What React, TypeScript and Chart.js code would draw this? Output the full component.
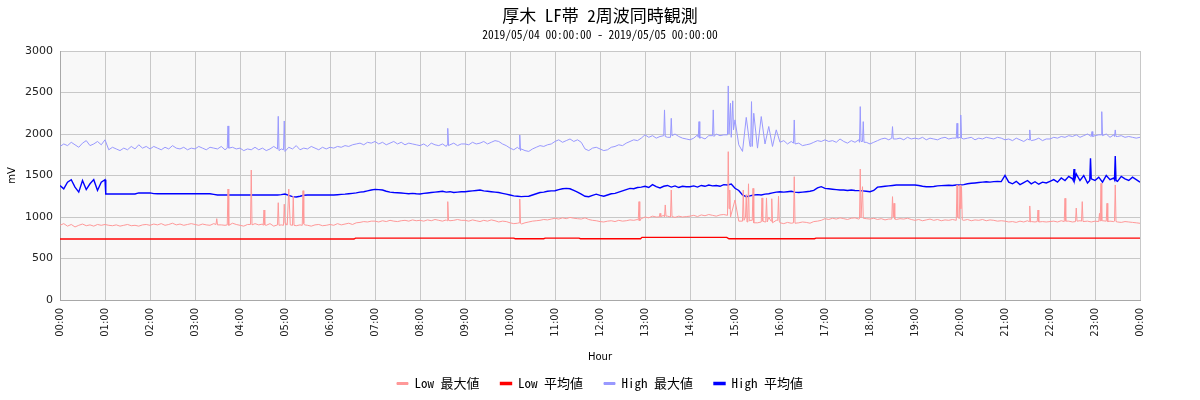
import React, { useEffect, useRef } from "react";
import { Chart, registerables } from "chart.js";

Chart.register(...registerables);

const TITLE = "厚木 LF帯 2周波同時観測";
const SUBTITLE = "2019/05/04 00:00:00 - 2019/05/05 00:00:00";
const X_TITLE = "Hour";
const Y_TITLE = "mV";
const SERIES_LABELS = ["Low 最大値", "Low 平均値", "High 最大値", "High 平均値"];
const SERIES_COLORS = ["#ff9999", "#ff0000", "#9999ff", "#0000ff"];

// sampling step of the base arrays, in minutes since 00:00
const STEP = 5;

// Low max, every 5 minutes (one row per hour) + final 24:00 value
const lowMax = [
  900, 920, 890, 910, 880, 900, 915, 895, 905, 890, 910, 900,
  910, 900, 895, 905, 890, 900, 910, 895, 900, 890, 905, 910,
  900, 915, 905, 920, 900, 910, 925, 905, 915, 900, 910, 920,
  910, 900, 915, 905, 900, 920, 910, 905, 900, 915, 925, 910,
  900, 890, 910, 895, 920, 905, 915, 900, 920, 890, 925, 905,
  930, 900, 910, 895, 905, 920, 900, 890, 905, 910, 895, 900,
  910, 900, 920, 905, 915, 925, 910, 930, 935, 945, 940, 950,
  950, 940, 955, 945, 960, 950, 945, 955, 960, 950, 965, 955,
  960, 950, 965, 955, 970, 960, 950, 965, 955, 960, 970, 960,
  960, 950, 965, 955, 945, 960, 950, 965, 955, 940, 950, 945,
  930, 920, 925, 915, 930, 940, 950, 955, 960, 970, 965, 975,
  985, 975, 990, 980, 995, 985, 980, 975, 990, 970, 960, 955,
  945, 940, 950, 955, 945, 960, 950, 955, 965, 960, 970, 980,
  1000, 990, 1010, 1000, 1045, 1020, 1010, 1000, 995, 1010, 1000, 1005,
  1010, 1020, 1005, 1025, 1015, 1030, 1020, 1010, 1025, 1030, 1020, 1035,
  1205, 950, 1000, 920, 960, 1050, 930, 980, 940, 1000, 930, 960,
  930, 920, 935, 925, 915, 930, 940, 935, 925, 945, 950, 960,
  980, 970, 985, 975, 990, 980, 970, 985, 990, 975, 985, 980,
  975, 985, 970, 980, 965, 975, 985, 970, 980, 975, 985, 970,
  960, 970, 955, 965, 975, 960, 970, 955, 965, 960, 970, 965,
  1000, 960, 970, 955, 965, 960, 970, 955, 965, 960, 950, 955,
  950, 940, 945, 935, 950, 940, 955, 945, 940, 950, 945, 940,
  945, 950, 940, 955, 945, 950, 940, 945, 955, 945, 950, 940,
  950, 945, 955, 940, 950, 945, 940, 935, 945, 940, 935, 930,
  924,
];

// Low max spikes: [minute, value]
const lowMaxSpikes = [
  [208, 910], [209, 980], [210, 905],
  [223, 905], [224, 1337], [225, 900],
  [254, 910], [255, 1566], [256, 905],
  [271, 900], [272, 1084], [273, 905],
  [290, 905], [291, 1172], [292, 900],
  [298, 900], [299, 1154], [301, 910], [303, 905], [305, 1337], [307, 905],
  [310, 900], [311, 1253], [312, 900], [323, 900], [324, 1317], [326, 905],
  [516, 955], [517, 1185], [518, 960],
  [612, 930], [613, 1217], [614, 925],
  [771, 960], [772, 1185], [773, 955],
  [799, 1000], [800, 1044], [801, 1005], [806, 1000], [807, 1145], [808, 1010],
  [814, 1000], [815, 1325], [816, 1005],
  [890, 1020], [891, 1787], [892, 1100], [893, 1325], [894, 1000],
  [910, 950], [911, 1325], [912, 960], [914, 1000], [915, 1270], [916, 940],
  [917, 1000], [918, 1400], [919, 950], [923, 960], [924, 1345], [925, 930],
  [935, 940], [936, 1230], [937, 950], [941, 960], [942, 1230], [943, 940],
  [948, 950], [949, 1220], [950, 930], [957, 960], [958, 1250], [959, 950],
  [978, 930], [979, 1486], [980, 925],
  [1066, 980], [1067, 1578], [1068, 990], [1070, 1365], [1071, 985],
  [1109, 975], [1110, 1245], [1111, 1000], [1112, 1165], [1113, 975],
  [1195, 960], [1196, 1386], [1197, 1000], [1199, 980], [1200, 1386], [1201, 1100],
  [1202, 1365], [1203, 965],
  [1292, 945], [1293, 1133], [1294, 940], [1303, 945], [1304, 1084], [1305, 940],
  [1339, 945], [1340, 1225], [1341, 950], [1354, 945], [1355, 1108], [1356, 950],
  [1362, 950], [1363, 1185], [1364, 945],
  [1385, 945], [1386, 1044], [1387, 950], [1388, 1406], [1389, 955],
  [1395, 950], [1396, 1165], [1397, 945], [1406, 950], [1407, 1386], [1408, 945],
];

// Low average: [minute, value]
const lowAvg = [
  [0, 735], [392, 735], [394, 745], [605, 745], [607, 738], [645, 738],
  [647, 745], [692, 745], [694, 738], [774, 738], [776, 755], [889, 755],
  [892, 738], [1006, 738], [1008, 745], [1440, 745],
];

// High max, every 5 minutes + final 24:00 value
const highMax = [
  1850, 1880, 1860, 1900, 1870, 1840, 1890, 1920, 1860, 1880, 1910, 1870,
  1930, 1810, 1840, 1820, 1800, 1830, 1810, 1850, 1820, 1870, 1830, 1850,
  1820, 1850, 1830, 1810, 1840, 1820, 1860, 1830, 1820, 1840, 1810, 1830,
  1820, 1850, 1830, 1810, 1840, 1830, 1820, 1850, 1810, 1830, 1840, 1820,
  1830, 1800, 1820, 1810, 1840, 1810, 1830, 1800, 1820, 1850, 1830, 1820,
  1800, 1840, 1820, 1860, 1810, 1830, 1820, 1850, 1830, 1810, 1840, 1820,
  1840, 1830, 1850, 1840, 1860, 1850, 1870, 1880, 1890, 1870, 1900, 1890,
  1910, 1880, 1900, 1870, 1890, 1910, 1880, 1900, 1870, 1890, 1880, 1870,
  1860, 1880, 1850, 1890, 1870, 1860, 1880, 1850, 1870, 1890, 1860, 1880,
  1880, 1870, 1900, 1880, 1890, 1910, 1880, 1900, 1920, 1910, 1880, 1860,
  1830, 1810, 1840, 1820, 1800, 1790, 1820, 1840, 1860, 1850, 1870, 1880,
  1910, 1930, 1900, 1920, 1940, 1910, 1930, 1900, 1820, 1800, 1830, 1840,
  1820, 1800, 1810, 1840, 1850, 1870, 1860, 1890, 1910, 1930, 1920, 1950,
  1990, 1960, 1980, 1950, 1970, 1990, 1960, 1980, 2000, 1970, 1950, 1940,
  1930, 1950, 1990, 1960, 1940, 1980, 1970, 2000, 1980, 1990, 1970, 2010,
  2170, 1870, 1790, 2200, 1850, 2250, 1830, 2210, 1880, 2090, 1850, 2050,
  1900, 1920, 1880, 1910, 1870, 1890, 1860, 1870, 1880, 1900, 1920, 1910,
  1930, 1910, 1920, 1900, 1940, 1910, 1890, 1920, 1900, 1930, 1910, 1900,
  1880, 1900, 1920, 1940, 1950, 1930, 1960, 1940, 1950, 1930, 1960, 1940,
  1950, 1940, 1960, 1930, 1950, 1940, 1930, 1950, 1960, 1940, 1950, 1930,
  1960, 1940, 1950, 1960, 1930, 1950, 1940, 1960, 1950, 1940, 1960, 1950,
  1930, 1940, 1920, 1950, 1930, 1910, 1940, 1920, 1930, 1950, 1920, 1940,
  1940, 1960, 1950, 1970, 1960, 1980, 1970, 1990, 1960, 1980, 2000, 1970,
  1980, 1990, 1970, 2000, 1960, 1990, 1970, 1980, 1960, 1970, 1960, 1950,
  1960,
];

// High max spikes: [minute, value]
const highMaxSpikes = [
  [223, 1830], [224, 2097], [225, 1830],
  [290, 1820], [291, 2213], [292, 1800],
  [298, 1810], [299, 2157], [300, 1790],
  [516, 1870], [517, 2068], [518, 1860],
  [612, 1820], [613, 1988], [614, 1800],
  [805, 1980], [806, 2290], [807, 1970],
  [814, 1960], [815, 2189], [816, 1980],
  [851, 1960], [852, 2149], [853, 1950],
  [870, 1980], [871, 2290], [872, 1970],
  [890, 1990], [891, 2579], [892, 2000], [894, 2370], [895, 1960], [897, 2400], [898, 2050],
  [921, 1900], [922, 2390], [923, 1850],
  [978, 1890], [979, 2169], [980, 1880],
  [1066, 1900], [1067, 2330], [1068, 1910], [1071, 2149], [1072, 1900],
  [1109, 1950], [1110, 2089], [1111, 1940],
  [1195, 1950], [1196, 2129], [1197, 1950], [1201, 2229], [1202, 1950],
  [1292, 1930], [1293, 2049], [1294, 1930],
  [1375, 1970], [1376, 2029], [1377, 1970],
  [1388, 1990], [1389, 2269], [1390, 1980],
  [1406, 1970], [1407, 2049], [1408, 1970],
];

// High average, every 5 minutes + final 24:00 value
const highAvg = [
  1380, 1340, 1420, 1450, 1360, 1300, 1440, 1330, 1400, 1450, 1320, 1420,
  1450, 1277, 1277, 1277, 1277, 1277, 1277, 1277, 1277, 1290, 1290, 1290,
  1290, 1282, 1280, 1280, 1280, 1280, 1280, 1280, 1280, 1280, 1280, 1280,
  1280, 1280, 1280, 1280, 1280, 1272, 1265, 1265, 1265, 1265, 1265, 1265,
  1265, 1265, 1265, 1265, 1265, 1265, 1265, 1265, 1265, 1265, 1265, 1270,
  1277, 1260, 1245, 1241, 1250, 1262, 1265, 1265, 1265, 1265, 1265, 1265,
  1265, 1265, 1268, 1272, 1275, 1280, 1285, 1290, 1300, 1305, 1315, 1325,
  1333, 1330, 1325, 1310, 1300, 1295, 1293, 1290, 1285, 1280, 1285, 1280,
  1277, 1285, 1290, 1295, 1300, 1305, 1310, 1300, 1305, 1295, 1300, 1305,
  1305, 1310, 1315, 1320, 1325, 1315, 1310, 1305, 1300, 1295, 1285, 1275,
  1265, 1255, 1250, 1245, 1248, 1250, 1265, 1280, 1295, 1300, 1310, 1315,
  1317, 1330, 1340, 1345, 1340, 1320, 1300, 1275, 1250, 1245, 1260, 1275,
  1260, 1250, 1265, 1280, 1285, 1300, 1315, 1330, 1345, 1340, 1355, 1360,
  1370, 1355, 1390, 1365, 1350, 1370, 1380, 1360, 1375, 1355, 1370, 1365,
  1365, 1375, 1360, 1380, 1370, 1385, 1375, 1380, 1370, 1390, 1385, 1398,
  1346, 1320, 1265, 1245, 1255, 1265, 1270, 1265, 1275, 1280, 1290, 1300,
  1305, 1300, 1305, 1310, 1300, 1295, 1300, 1305, 1310, 1320, 1350, 1365,
  1345, 1340, 1335, 1330, 1325, 1325, 1320, 1325, 1320, 1318, 1315, 1310,
  1305, 1320, 1360, 1365, 1370, 1375, 1380, 1385, 1385, 1386, 1386, 1386,
  1385, 1380, 1370, 1365, 1365, 1368, 1375, 1378, 1380, 1382, 1380, 1385,
  1386, 1390, 1400, 1406, 1410, 1415, 1420, 1424, 1420, 1426, 1428, 1426,
  1500, 1420, 1400, 1430, 1390, 1415, 1440, 1400, 1425, 1395, 1420, 1410,
  1430, 1450, 1420, 1470, 1440, 1490, 1460, 1520, 1440, 1500, 1410, 1420,
  1440, 1480, 1420, 1500, 1450, 1470, 1430, 1490, 1460, 1440, 1480, 1450,
  1420,
];

// High average extra readings: [minute, value]
const highAvgSpikes = [
  [61, 1277],
  [1351, 1440], [1352, 1578], [1353, 1450],
  [1373, 1440], [1374, 1707], [1375, 1460],
  [1406, 1450], [1407, 1735], [1408, 1440],
];

const X_MIN = 0;
const X_MAX = 1440;
const X_STEP = 60;
const Y_MIN = 0;
const Y_MAX = 3000;
const Y_STEP = 500;

const MONO = "'Noto Sans Mono CJK JP', 'Noto Sans CJK JP', 'DejaVu Sans Mono', monospace";
const SANS = "'DejaVu Sans', 'Noto Sans CJK JP', sans-serif";

function toPoints(base: number[], extra: number[][] = []) {
  const m = new Map<number, number>();
  base.forEach((v, i) => m.set(i * STEP, v));
  extra.forEach(([x, y]) => m.set(x, y));
  return [...m.entries()].sort((a, b) => a[0] - b[0]).map(([x, y]) => ({ x, y }));
}

function pairPoints(pairs: number[][]) {
  return pairs.map(([x, y]) => ({ x, y }));
}

const plotBg = {
  id: "plotBg",
  beforeDraw(chart: any) {
    const { ctx, chartArea } = chart;
    if (!chartArea) return;
    ctx.save();
    ctx.fillStyle = "#f8f8f8";
    ctx.fillRect(chartArea.left, chartArea.top, chartArea.right - chartArea.left, chartArea.bottom - chartArea.top);
    ctx.restore();
  },
};

export default function App() {
  const ref = useRef<HTMLCanvasElement | null>(null);

  useEffect(() => {
    if (!ref.current) return;
    Chart.defaults.font.family = SANS;
    const series = [
      toPoints(lowMax, lowMaxSpikes),
      pairPoints(lowAvg),
      toPoints(highMax, highMaxSpikes),
      toPoints(highAvg, highAvgSpikes),
    ];
    const widths = [1, 1.4, 1, 1.4];
    const chart = new Chart(ref.current, {
      type: "line",
      data: {
        datasets: series.map((d, i) => ({
          label: SERIES_LABELS[i],
          data: d,
          borderColor: SERIES_COLORS[i],
          backgroundColor: SERIES_COLORS[i],
          borderWidth: widths[i],
          pointRadius: 0,
          tension: 0,
          fill: false,
        })),
      },
      options: {
        animation: false,
        responsive: true,
        maintainAspectRatio: false,
        layout: { padding: 0 },
        plugins: {
          title: {
            display: true,
            text: TITLE,
            color: "#000",
            font: { family: MONO, size: 17, weight: "normal" },
            padding: { top: 5, bottom: 0 },
          },
          subtitle: {
            display: true,
            text: SUBTITLE,
            color: "#000",
            font: { family: MONO, size: 11.5 },
            padding: { top: 2.7, bottom: 9.1 },
          },
          legend: {
            position: "bottom",
            labels: {
              boxWidth: 11,
              boxHeight: 2,
              padding: 21,
              color: "#000",
              font: { family: MONO, size: 13 },
            },
          },
          tooltip: { enabled: false },
        },
        scales: {
          x: {
            type: "linear",
            min: X_MIN,
            max: X_MAX,
            grid: { color: "#c8c8c8", drawTicks: false },
            border: { color: "#a8a8a8" },
            ticks: {
              stepSize: X_STEP,
              autoSkip: false,
              maxRotation: 90,
              minRotation: 90,
              padding: 8,
              color: "#222",
              font: { size: 10 },
              callback: (v: any) => String(Math.round(Number(v) / 60) % 24).padStart(2, "0") + ":00",
            },
            title: {
              display: true,
              text: X_TITLE,
              color: "#000",
              font: { size: 10 },
              padding: { top: 0, bottom: -7 },
            },
            afterFit: (s: any) => {
              s.height = 56;
            },
          },
          y: {
            type: "linear",
            min: Y_MIN,
            max: Y_MAX,
            grid: { color: "#c8c8c8", drawTicks: false },
            border: { color: "#a8a8a8" },
            ticks: {
              stepSize: Y_STEP,
              padding: 7,
              color: "#222",
              font: { size: 11 },
              callback: (v: any) => String(v),
            },
            title: {
              display: true,
              text: Y_TITLE,
              color: "#000",
              font: { size: 10 },
              padding: { top: 6, bottom: 0 },
            },
            afterFit: (s: any) => {
              s.width = 60;
            },
          },
          yRight: {
            type: "linear",
            position: "right",
            min: Y_MIN,
            max: Y_MAX,
            grid: { display: false, drawOnChartArea: false },
            border: { display: false },
            ticks: { display: false },
            afterFit: (s: any) => {
              s.width = 60;
            },
          },
        },
      } as any,
      plugins: [plotBg],
    });
    return () => chart.destroy();
  }, []);

  return (
    <div style={{ position: "absolute", left: 0, top: 0, width: 1200, height: 400 }}>
      <canvas ref={ref} />
    </div>
  );
}
